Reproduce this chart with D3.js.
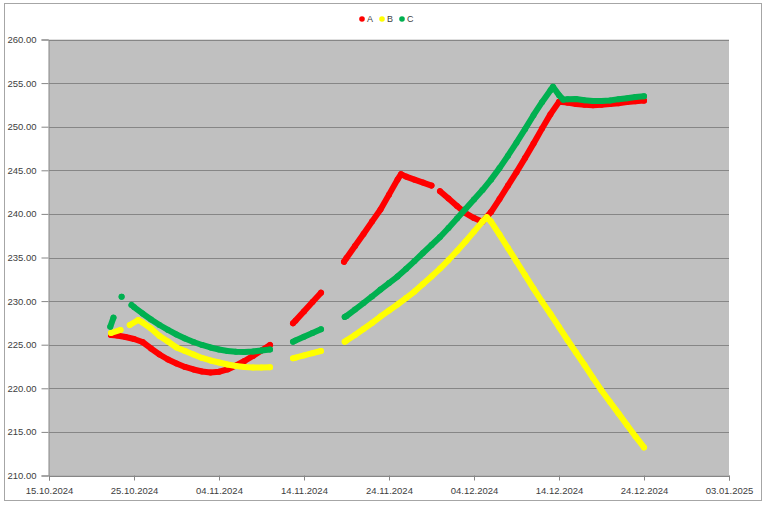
<!DOCTYPE html>
<html lang="en">
<head>
    <meta charset="UTF-8">
    <title>A / B / C</title>
    <script src="https://d3js.org/d3.v7.min.js"></script>
    <style>
        body { margin: 0; background: #fff; }
        text { font-family: "Liberation Sans", Arial, sans-serif; }
    </style>
</head>
<body>
    <svg id="chart"></svg>

    <script>
        // Series data: [time, value], null marks a gap in the record
        const seriesA = [
            ["2024-10-22 07:00", 226.11], ["2024-10-23", 226.06], ["2024-10-24", 225.88], ["2024-10-25", 225.65],
            ["2024-10-26", 225.31], ["2024-10-27", 224.57], ["2024-10-28", 223.88], ["2024-10-29", 223.30],
            ["2024-10-30", 222.85], ["2024-10-31", 222.45], ["2024-11-01", 222.16], ["2024-11-02", 221.93],
            ["2024-11-03", 221.82], ["2024-11-04", 221.90], ["2024-11-05", 222.16], ["2024-11-06", 222.62],
            ["2024-11-07", 223.13], ["2024-11-08", 223.71], ["2024-11-09", 224.34], ["2024-11-10", 224.97],
            null,
            ["2024-11-12 17:00", 227.45], ["2024-11-13", 227.76], ["2024-11-14", 228.82], ["2024-11-15", 229.89],
            ["2024-11-16", 230.96],
            null,
            ["2024-11-18 17:00", 234.51], ["2024-11-19", 234.94], ["2024-11-20", 236.31], ["2024-11-21", 237.69],
            ["2024-11-22", 239.12], ["2024-11-23", 240.50], ["2024-11-24", 242.21], ["2024-11-25", 243.93],
            ["2024-11-25 10:00", 244.56], ["2024-11-26", 244.28], ["2024-11-27", 243.93], ["2024-11-28", 243.59],
            ["2024-11-29", 243.25],
            null,
            ["2024-11-30", 242.61], ["2024-12-01", 241.76], ["2024-12-02", 240.90], ["2024-12-03", 240.09],
            ["2024-12-04", 239.52], ["2024-12-05", 239.10], ["2024-12-06", 240.21], ["2024-12-07", 241.70],
            ["2024-12-08", 243.25], ["2024-12-09", 244.79], ["2024-12-10", 246.40], ["2024-12-11", 248.06],
            ["2024-12-12", 249.78], ["2024-12-13", 251.44], ["2024-12-14", 252.85], ["2024-12-15", 252.76],
            ["2024-12-16", 252.59], ["2024-12-17", 252.53], ["2024-12-18", 252.47], ["2024-12-19", 252.53],
            ["2024-12-20", 252.59], ["2024-12-21", 252.70], ["2024-12-22", 252.82], ["2024-12-23", 252.93],
            ["2024-12-24", 252.99]
        ];

        const seriesB = [
            ["2024-10-22 07:00", 226.34], ["2024-10-23 10:00", 226.69],
            null,
            ["2024-10-24 12:00", 227.26], ["2024-10-25 12:00", 227.83], ["2024-10-26", 227.55], ["2024-10-27", 226.86],
            ["2024-10-28", 226.00], ["2024-10-29", 225.37], ["2024-10-30", 224.68], ["2024-10-31", 224.28],
            ["2024-11-01", 223.88], ["2024-11-02", 223.48], ["2024-11-03", 223.19], ["2024-11-04", 222.96],
            ["2024-11-05", 222.73], ["2024-11-06", 222.56], ["2024-11-07", 222.45], ["2024-11-08", 222.39],
            ["2024-11-09", 222.39], ["2024-11-10", 222.41],
            null,
            ["2024-11-12 17:00", 223.44], ["2024-11-13", 223.51], ["2024-11-14", 223.77], ["2024-11-15", 224.03],
            ["2024-11-16", 224.28],
            null,
            ["2024-11-18 19:00", 225.35], ["2024-11-19", 225.47], ["2024-11-20", 226.11], ["2024-11-21", 226.80],
            ["2024-11-22", 227.49], ["2024-11-23", 228.23], ["2024-11-24", 228.92], ["2024-11-25", 229.61],
            ["2024-11-26", 230.35], ["2024-11-27", 231.10], ["2024-11-28", 231.96], ["2024-11-29", 232.82],
            ["2024-11-30", 233.73], ["2024-12-01", 234.71], ["2024-12-02", 235.74], ["2024-12-03", 236.83],
            ["2024-12-04", 237.97], ["2024-12-05", 239.12], ["2024-12-05 12:00", 239.63], ["2024-12-06", 239.12],
            ["2024-12-07", 237.63], ["2024-12-08", 236.08], ["2024-12-09", 234.54], ["2024-12-10", 232.99],
            ["2024-12-11", 231.44], ["2024-12-12", 229.95], ["2024-12-13", 228.52], ["2024-12-14", 227.03],
            ["2024-12-15", 225.54], ["2024-12-16", 224.11], ["2024-12-17", 222.67], ["2024-12-18", 221.19],
            ["2024-12-19", 219.75], ["2024-12-20", 218.43], ["2024-12-21", 217.12], ["2024-12-22", 215.80],
            ["2024-12-23", 214.48], ["2024-12-24", 213.22]
        ];

        const seriesC = [
            ["2024-10-22 05:00", 227.07], ["2024-10-22 14:00", 228.10],
            null,
            ["2024-10-23 13:00", 230.50],
            null,
            ["2024-10-24 17:00", 229.55], ["2024-10-25", 229.32], ["2024-10-26", 228.58], ["2024-10-27", 227.89],
            ["2024-10-28", 227.26], ["2024-10-29", 226.69], ["2024-10-30", 226.17], ["2024-10-31", 225.71],
            ["2024-11-01", 225.31], ["2024-11-02", 224.97], ["2024-11-03", 224.68], ["2024-11-04", 224.45],
            ["2024-11-05", 224.28], ["2024-11-06", 224.19], ["2024-11-07", 224.16], ["2024-11-08", 224.22],
            ["2024-11-09", 224.34], ["2024-11-10", 224.45],
            null,
            ["2024-11-12 17:00", 225.35], ["2024-11-13", 225.47], ["2024-11-14", 225.91], ["2024-11-15", 226.33],
            ["2024-11-16", 226.77],
            null,
            ["2024-11-18 19:00", 228.18], ["2024-11-19", 228.29], ["2024-11-20", 229.03], ["2024-11-21", 229.78],
            ["2024-11-22", 230.53], ["2024-11-23", 231.32], ["2024-11-24", 232.07], ["2024-11-25", 232.82],
            ["2024-11-26", 233.68], ["2024-11-27", 234.59], ["2024-11-28", 235.51], ["2024-11-29", 236.43],
            ["2024-11-30", 237.35], ["2024-12-01", 238.38], ["2024-12-02", 239.46], ["2024-12-03", 240.55],
            ["2024-12-04", 241.64], ["2024-12-05", 242.73], ["2024-12-06", 243.93], ["2024-12-07", 245.25],
            ["2024-12-08", 246.68], ["2024-12-09", 248.17], ["2024-12-10", 249.72], ["2024-12-11", 251.32],
            ["2024-12-12", 252.81], ["2024-12-13", 254.19], ["2024-12-13 07:00", 254.57], ["2024-12-14", 253.62],
            ["2024-12-14 12:00", 253.10], ["2024-12-15", 253.16], ["2024-12-16", 253.18], ["2024-12-17", 253.04],
            ["2024-12-18", 252.96], ["2024-12-19", 252.96], ["2024-12-20", 253.01], ["2024-12-21", 253.16],
            ["2024-12-22", 253.27], ["2024-12-23", 253.41], ["2024-12-24", 253.50]
        ];

        const seriesNames = ["A", "B", "C"];
        const seriesColors = ["#ff0000", "#ffff00", "#00b050"];

        // Axis ticks
        const xTickLabels = ["15.10.2024", "25.10.2024", "04.11.2024", "14.11.2024", "24.11.2024",
                             "04.12.2024", "14.12.2024", "24.12.2024", "03.01.2025"];
        const yTicks = [210, 215, 220, 225, 230, 235, 240, 245, 250, 255, 260];

        const width = 768, height = 507;
        const plot = { left: 49, right: 729, top: 39.5, bottom: 475.5 };

        const parseDay = d3.timeParse("%Y-%m-%d");
        const parseTime = d3.timeParse("%Y-%m-%d %H:%M");
        const parseLabel = d3.timeParse("%d.%m.%Y");
        const parse = s => s.length > 10 ? parseTime(s) : parseDay(s);

        const toPoints = arr => arr.map(d => d === null ? null : { t: parse(d[0]), v: d[1] });
        const allSeries = [seriesA, seriesB, seriesC].map(toPoints);
        const xTicks = xTickLabels.map(parseLabel);

        const svg = d3.select("#chart")
            .attr("width", width)
            .attr("height", height);

        // Outer chart border
        svg.append("rect")
            .attr("x", 4.5).attr("y", 3.5)
            .attr("width", 757).attr("height", 497)
            .attr("fill", "#fff")
            .attr("stroke", "#a6a6a6");

        const x = d3.scaleTime()
            .domain([xTicks[0], xTicks[xTicks.length - 1]])
            .range([plot.left, plot.right]);

        const y = d3.scaleLinear()
            .domain([210, 260])
            .range([plot.bottom, plot.top]);

        // Plot area
        svg.append("rect")
            .attr("x", plot.left).attr("y", plot.top)
            .attr("width", plot.right - plot.left)
            .attr("height", plot.bottom - plot.top)
            .attr("fill", "#c0c0c0");

        // Horizontal gridlines
        svg.append("g")
            .selectAll("line")
            .data(yTicks)
            .join("line")
            .attr("x1", plot.left).attr("x2", plot.right)
            .attr("y1", d => Math.round(y(d)) + 0.5)
            .attr("y2", d => Math.round(y(d)) + 0.5)
            .attr("stroke", "#868686");

        // Axes
        const yAxis = svg.append("g")
            .attr("transform", `translate(${plot.left - 0.5},0)`)
            .call(d3.axisLeft(y).tickValues(yTicks).tickFormat(d3.format(".2f")).tickSize(7).tickPadding(5));

        const xAxis = svg.append("g")
            .attr("transform", `translate(0,${plot.bottom})`)
            .call(d3.axisBottom(x).tickValues(xTicks).tickFormat(d3.timeFormat("%d.%m.%Y")).tickSize(5).tickPadding(7));

        [yAxis, xAxis].forEach(g => {
            g.select(".domain").attr("stroke", "#868686");
            g.selectAll(".tick line").attr("stroke", "#868686");
            g.selectAll(".tick text")
                .attr("fill", "#404040")
                .style("font-size", "9.5px");
        });

        // Series as dense marker runs
        const line = d3.line()
            .defined(d => d !== null)
            .x(d => x(d.t))
            .y(d => y(d.v));

        allSeries.forEach((pts, i) => {
            const g = svg.append("g");
            g.append("path")
                .datum(pts)
                .attr("d", line)
                .attr("fill", "none")
                .attr("stroke", seriesColors[i])
                .attr("stroke-width", 6)
                .attr("stroke-linecap", "round")
                .attr("stroke-linejoin", "round");
            g.selectAll("circle")
                .data(pts.filter(d => d !== null))
                .join("circle")
                .attr("cx", d => x(d.t))
                .attr("cy", d => y(d.v))
                .attr("r", 3)
                .attr("fill", seriesColors[i]);
        });

        // Legend
        const legend = svg.append("g")
            .attr("transform", "translate(362,19)");

        const items = legend.selectAll("g")
            .data(seriesNames)
            .join("g")
            .attr("transform", (d, i) => `translate(${i * 20},0)`);

        items.append("circle")
            .attr("r", 2.8)
            .attr("fill", (d, i) => seriesColors[i]);

        items.append("text")
            .attr("x", 5)
            .attr("dy", "0.35em")
            .attr("fill", "#404040")
            .style("font-size", "9px")
            .text(d => d);
    </script>
</body>
</html>
